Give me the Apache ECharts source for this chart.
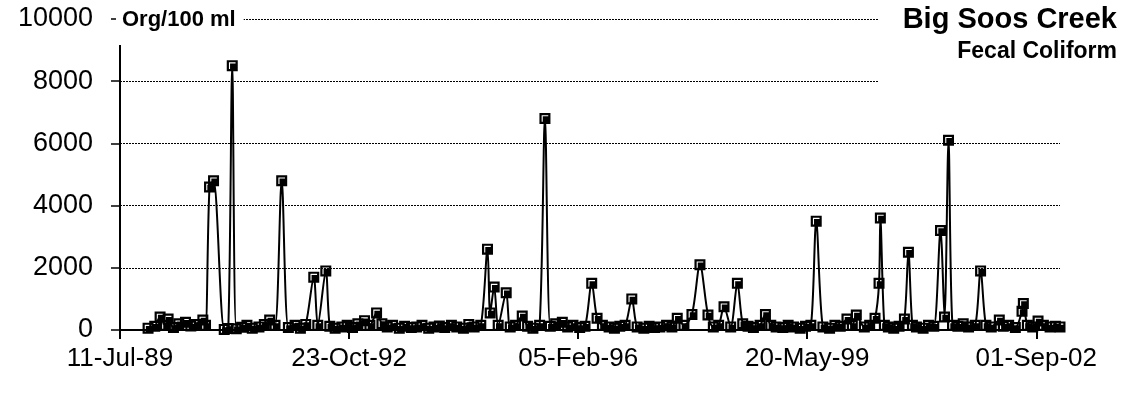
<!DOCTYPE html>
<html>
<head>
<meta charset="utf-8">
<script src="https://cdn.jsdelivr.net/npm/echarts@6/dist/echarts.min.js"></script>
<style>
  html, body { margin: 0; padding: 0; background: #fff; }
  #chart { width: 1132px; height: 396px; }
</style>
</head>
<body>
<div id="chart"></div>
<script>
// sample dates and fecal coliform counts (Org/100 ml)
var sampleDates = [
  '1989-12-05','1990-01-09','1990-02-06','1990-03-06','1990-03-20','1990-04-17','1990-05-15','1990-06-19',
  '1990-07-17','1990-08-14','1990-09-18','1990-10-02','1990-10-23','1990-11-13','1991-01-08','1991-01-29',
  '1991-02-19','1991-03-12','1991-04-09','1991-05-07','1991-06-04','1991-07-09','1991-08-06','1991-09-03',
  '1991-10-01','1991-11-05','1991-12-10','1992-01-14','1992-02-11','1992-03-10','1992-04-21','1992-05-12',
  '1992-06-23','1992-07-14','1992-08-11','1992-09-15','1992-10-13','1992-11-10','1992-12-08','1993-01-12',
  '1993-02-09','1993-03-16','1993-04-13','1993-05-11','1993-06-08','1993-07-13','1993-08-10','1993-09-14',
  '1993-10-12','1993-11-09','1993-12-14','1994-01-11','1994-02-08','1994-03-08','1994-04-12','1994-05-10',
  '1994-06-14','1994-07-12','1994-08-09','1994-09-13','1994-10-18','1994-11-01','1994-11-22','1994-12-13',
  '1995-01-24','1995-02-14','1995-03-14','1995-04-18','1995-05-16','1995-06-13','1995-07-18','1995-08-15',
  '1995-09-12','1995-10-10','1995-11-14','1995-12-12','1996-01-09','1996-02-13','1996-03-12','1996-04-16',
  '1996-05-14','1996-06-11','1996-07-16','1996-08-13','1996-09-10','1996-10-08','1996-11-12','1996-12-10',
  '1997-01-14','1997-02-11','1997-03-11','1997-04-08','1997-05-13','1997-06-10','1997-07-08','1997-08-12',
  '1997-09-23','1997-11-04','1997-12-16','1998-01-13','1998-02-10','1998-03-10','1998-04-14','1998-05-19',
  '1998-06-16','1998-07-14','1998-08-11','1998-09-15','1998-10-13','1998-11-10','1998-12-08','1999-01-12',
  '1999-02-09','1999-03-09','1999-04-13','1999-05-11','1999-06-08','1999-07-06','1999-08-10','1999-09-14',
  '1999-10-12','1999-11-09','1999-12-14','2000-01-11','2000-02-01','2000-03-14','2000-04-11','2000-05-09',
  '2000-05-30','2000-06-06','2000-06-27','2000-07-18','2000-08-15','2000-09-12','2000-10-10','2000-10-31',
  '2000-11-21','2000-12-12','2001-01-16','2001-02-13','2001-03-13','2001-04-17','2001-05-08','2001-05-29',
  '2001-06-19','2001-07-17','2001-08-14','2001-09-11','2001-10-16','2001-11-13','2001-12-11','2002-01-08',
  '2002-02-19','2002-03-12','2002-04-09','2002-05-14','2002-06-18','2002-06-25','2002-07-16','2002-08-13',
  '2002-09-10','2002-10-08','2002-11-12','2002-12-10','2003-01-03'
];
var fecalColiform = [
  60, 120, 420, 150, 350, 80, 200, 250,
  130, 180, 320, 150, 4600, 4800, 20, 50,
  8500, 40, 90, 150, 60, 100, 180, 320,
  150, 4800, 80, 150, 60, 180, 1700, 150,
  1900, 120, 60, 100, 150, 80, 200, 300,
  150, 550, 200, 100, 150, 60, 120, 80,
  100, 150, 60, 100, 130, 80, 150, 100,
  60, 180, 100, 150, 2600, 550, 1380, 150,
  1200, 100, 150, 450, 120, 60, 150, 6800,
  120, 200, 250, 100, 150, 80, 120, 1500,
  380, 150, 100, 60, 120, 150, 1000, 100,
  60, 120, 80, 100, 150, 100, 380, 150,
  500, 2100, 480, 100, 150, 750, 100, 1500,
  200, 120, 80, 150, 500, 150, 100, 80,
  150, 100, 60, 120, 150, 3500, 100, 60,
  150, 120, 350, 150, 480, 100, 150, 380,
  1500, 3600, 150, 100, 60, 120, 350, 2500,
  150, 100, 60, 150, 120, 3200, 420, 6100,
  150, 120, 200, 100, 150, 1900, 150, 100,
  320, 120, 150, 80, 600, 850, 150, 100,
  290, 150, 100, 120, 100
];
// axis: days counted from the first tick date
var axisStart = '1989-07-11';
var axisEnd = '2003-01-03';
var tickDays = [0, 1200, 2400, 3600, 4800];
var yTicks = [0, 2000, 4000, 6000, 8000, 10000];

var DAY = 86400000;
var base = Date.parse(axisStart);
var months = ['Jan','Feb','Mar','Apr','May','Jun','Jul','Aug','Sep','Oct','Nov','Dec'];
function toDays(s) { return Math.round((Date.parse(s) - base) / DAY); }
function dayLabel(v) {
  var d = new Date(base + v * DAY);
  var dd = ('0' + d.getUTCDate()).slice(-2);
  var yy = ('0' + (d.getUTCFullYear() % 100)).slice(-2);
  return dd + '-' + months[d.getUTCMonth()] + '-' + yy;
}
var points = sampleDates.map(function (s, i) { return [toDays(s), fecalColiform[i]]; });

var font = "'Liberation Sans', Arial, sans-serif";
var chart = echarts.init(document.getElementById('chart'), null, { renderer: 'canvas' });
chart.setOption({
  animation: false,
  backgroundColor: '#fff',
  title: [{
    // white box behind the title block hides the gridlines there
    text: 'Big Soos Creek',
    right: 0,
    top: 0,
    padding: [5, 15, 62, 24],
    backgroundColor: '#fff',
    textStyle: { fontFamily: font, fontSize: 29, fontWeight: 'bold', color: '#000' }
  }, {
    text: 'Fecal Coliform',
    right: 15,
    top: 40,
    padding: 0,
    textStyle: { fontFamily: font, fontSize: 23, fontWeight: 'bold', color: '#000' }
  }, {
    text: 'Org/100 ml',
    left: 116,
    top: 7,
    padding: [2, 8, 14, 6],
    backgroundColor: '#fff',
    textStyle: { fontFamily: font, fontSize: 22, fontWeight: 'bold', color: '#000' }
  }],
  grid: { left: 120, right: 72, top: 19, bottom: 66, containLabel: false, outerBoundsMode: 'none' },
  xAxis: {
    type: 'value',
    min: 0,
    max: toDays(axisEnd),
    interval: 1200,
    axisLine: { lineStyle: { color: '#000', width: 2 } },
    axisTick: { customValues: tickDays, length: 9, lineStyle: { color: '#000', width: 2 } },
    axisLabel: {
      customValues: tickDays,
      formatter: dayLabel,
      margin: 16,
      color: '#000', fontFamily: font, fontSize: 26
    },
    splitLine: { show: false }
  },
  yAxis: {
    type: 'value',
    min: yTicks[0],
    max: yTicks[yTicks.length - 1],
    interval: 2000,
    axisLine: { show: true, lineStyle: { color: '#000', width: 2 } },
    axisTick: { show: true, length: 9, lineStyle: { color: '#000', width: 1.5 } },
    axisLabel: {
      formatter: function (v) { return String(v); },
      margin: 27, color: '#000', fontFamily: font, fontSize: 27
    },
    splitLine: { show: true, lineStyle: { color: '#000', width: 1, type: [2, 1] } }
  },
  series: [{
    type: 'line',
    data: points,
    smooth: 0.3,
    symbol: 'path://M0,0H10V10H0Z M2,2V8H3V3H8V2Z',
    symbolSize: 11,
    showAllSymbol: true,
    lineStyle: { color: '#000', width: 2 },
    itemStyle: { color: '#000', borderWidth: 0 }
  }]
});
</script>
</body>
</html>
